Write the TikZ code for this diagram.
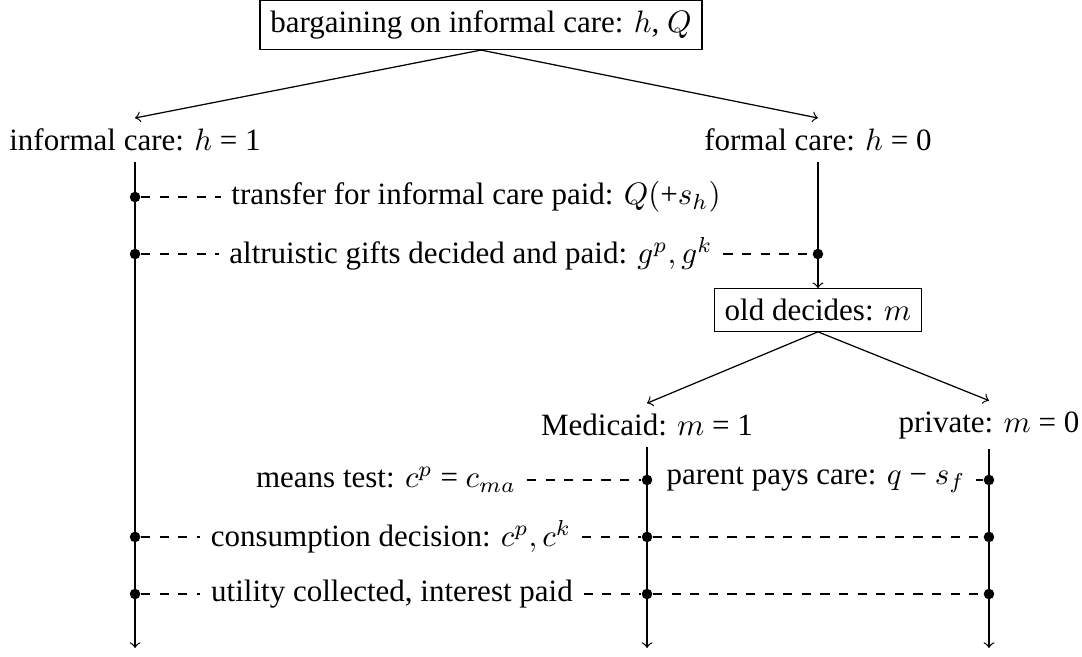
\documentclass[tikz,border=0pt]{standalone}
\usepackage{fontspec}
\setmainfont{Liberation Serif}
\tikzset{ box_style/.style = { rectangle % decision box
        , draw
        , inner sep = 3.3pt
        }
        , lbl_style/.style = { rectangle % branch label
        , inner sep = 3.3pt
        }
        , dot_style/.style = { circle % event dot
        , fill = black
        , inner sep = 0pt
        , minimum size = 3.4pt
        }
        }

\begin{document}
\begin{tikzpicture}[>=to,
        edge_style/.style={draw=black, thin, ->},
        time_style/.style={draw=black, thin, ->},
        event_style/.style={draw=black, thin, dashed},
        txt_style/.style={rectangle, inner sep=3.3pt}]
        \useasboundingbox (0,0) rectangle (12.268,-7.438);

        % decisions and branches
        \node [box_style](bargain) at (5.454,-0.283) {bargaining on informal care: $h$, $Q$};
        \node [lbl_style](inf) at (1.531,-1.587) {informal care: $h$ = 1};
        \node [lbl_style](frm) at (9.274,-1.587) {formal care: $h$ = 0};
        \node [box_style](old) at (9.274,-3.515) {old decides: $m$};
        \node [lbl_style](mcd) at (7.336,-4.819) {Medicaid: $m$ = 1};
        \node [lbl_style](prv) at (11.213,-4.819) {private: $m$ = 0};

        \coordinate (endi) at (1.531,-7.347);
        \coordinate (endm) at (7.336,-7.347);
        \coordinate (endp) at (11.213,-7.347);

        % events on the time lines
        \node [dot_style](i1) at (1.531,-2.234) {};
        \node [dot_style](i2) at (1.531,-2.880) {};
        \node [dot_style](f2) at (9.274,-2.880) {};
        \node [dot_style](m3) at (7.336,-5.442) {};
        \node [dot_style](p3) at (11.213,-5.442) {};
        \node [dot_style](i4) at (1.531,-6.088) {};
        \node [dot_style](m4) at (7.336,-6.088) {};
        \node [dot_style](p4) at (11.213,-6.088) {};
        \node [dot_style](i5) at (1.531,-6.735) {};
        \node [dot_style](m5) at (7.336,-6.735) {};
        \node [dot_style](p5) at (11.213,-6.735) {};

        \node [txt_style](t1) at (5.397,-2.234) {transfer for informal care paid: $Q(\mbox{+}s_h)$};
        \node [txt_style](t2) at (5.340,-2.880) {altruistic gifts decided and paid: $g^p, g^k$};
        \node [txt_style,anchor=east](t3) at (5.975,-5.442) {means test: $c^p$ = $c_{ma}$};
        \node [txt_style](t4) at (9.252,-5.442) {parent pays care: $q$ − $s_f$};
        \node [txt_style](t5) at (4.433,-6.088) {consumption decision: $c^p, c^k$};
        \node [txt_style](t6) at (4.444,-6.735) {utility collected, interest paid};

        \draw [edge_style] (bargain.south) -- (inf.north);
        \draw [edge_style] (bargain.south) -- (frm.north);
        \draw [edge_style] (frm.south) -- (old.north);
        \draw [edge_style] (old.south) -- (mcd.north);
        \draw [edge_style] (old.south) -- (prv.north);
        \draw [time_style] (inf.south) -- (endi);
        \draw [time_style] (mcd.south) -- (endm);
        \draw [time_style] (prv.south) -- (endp);

        \draw [event_style] (i1) -- (t1);
        \draw [event_style] (i2) -- (t2) -- (f2);
        \draw [event_style] (t3) -- (m3);
        \draw [event_style] (t4) -- (p3);
        \draw [event_style] (i4) -- (t5) -- (m4) -- (p4);
        \draw [event_style] (i5) -- (t6) -- (m5) -- (p5);
\end{tikzpicture}
\end{document}
